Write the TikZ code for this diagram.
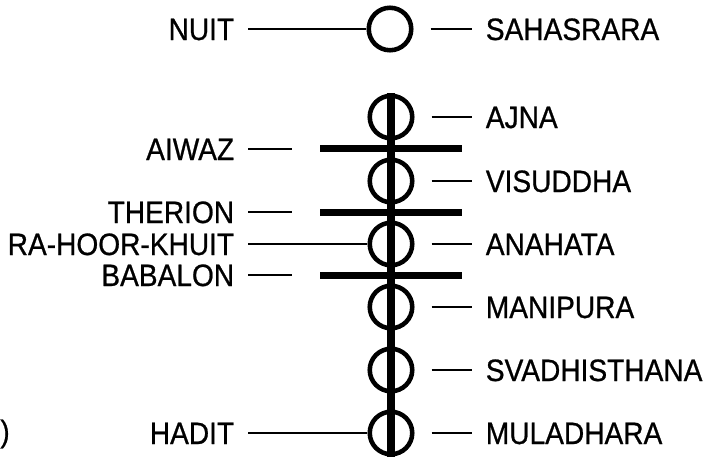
\documentclass[tikz,border=0pt]{standalone}
\usepackage{fontspec}
\setmainfont{Liberation Sans}
\newfontfamily\namefont{Liberation Sans}[FakeBold=0.8]
\newcommand{\tallname}[1]{\scalebox{1}[1.1]{#1}}
\usetikzlibrary{positioning}

\begin{document}
\begin{tikzpicture}[
    x=0.02cm, y=-0.02cm,
    chakra/.style={circle, draw=black, line width=2.6pt, inner sep=0pt, minimum size=0.85cm},
    bar/.style={rectangle, fill=black, inner sep=0pt, minimum width=2.84cm, minimum height=0.14cm},
    lname/.style={font=\namefont\fontsize{16}{19}\selectfont, inner xsep=0.27cm, inner ysep=0pt, text height=0.44cm, text depth=0pt, anchor=east},
    rname/.style={lname, anchor=west},
    link/.style={line width=1.4pt},
    spine/.style={line width=5pt}
]
\useasboundingbox (0,0) rectangle (710,457);

% Chakras
\node[chakra] (c0) at (390, 29) {};
\node[chakra] (c1) at (391, 117) {};
\node[chakra] (c2) at (391, 181) {};
\node[chakra] (c3) at (391, 244) {};
\node[chakra] (c4) at (391, 307) {};
\node[chakra] (c5) at (391, 370) {};
\node[chakra] (c6) at (391, 433) {};

% Cross bars
\node[bar] (b1) at (391, 148.5) {};
\node[bar] (b2) at (391, 212) {};
\node[bar] (b3) at (391, 275.5) {};

\draw[spine] (c1.north) -- (c6.south);

% Left names
\node[lname] (nuit) at (248, 29) {\tallname{NUIT}};
\node[lname] (aiwaz) at (248, 149) {\tallname{AIWAZ}};
\node[lname] (therion) at (248, 212) {\tallname{THERION}};
\node[lname] (rahoor) at (248, 244) {\tallname{RA-HOOR-KHUIT}};
\node[lname] (babalon) at (248, 275) {\tallname{BABALON}};
\node[lname] (hadit) at (248, 433) {\tallname{HADIT}};
\node[font=\namefont\fontsize{16}{19}\selectfont, inner sep=0pt, anchor=west] (paren) at (0, 434) {\tallname{)}};

\draw[link] (nuit) -- (c0);
\draw[link] (rahoor) -- (c3);
\draw[link] (hadit) -- (c6);
\draw[link] (aiwaz.east) -- ++(44, 0);
\draw[link] (therion.east) -- ++(44, 0);
\draw[link] (babalon.east) -- ++(44, 0);

% Right names
\node[rname] (sahasrara) at (472, 29) {\tallname{SAHASRARA}};
\node[rname] (ajna) at (472, 117) {\tallname{AJNA}};
\node[rname] (visuddha) at (472, 181) {\tallname{VISUDDHA}};
\node[rname] (anahata) at (472, 244) {\tallname{ANAHATA}};
\node[rname] (manipura) at (472, 307) {\tallname{MANIPURA}};
\node[rname] (svadhisthana) at (472, 370) {\tallname{SVADHISTHANA}};
\node[rname] (muladhara) at (472, 433) {\tallname{MULADHARA}};

\draw[link] (c0.east) ++(17, 0) -- (sahasrara.west);
\draw[link] (c1.east) ++(17, 0) -- (ajna.west);
\draw[link] (c2.east) ++(17, 0) -- (visuddha.west);
\draw[link] (c3.east) ++(17, 0) -- (anahata.west);
\draw[link] (c4.east) ++(17, 0) -- (manipura.west);
\draw[link] (c5.east) ++(17, 0) -- (svadhisthana.west);
\draw[link] (c6.east) ++(17, 0) -- (muladhara.west);

\end{tikzpicture}
\end{document}
